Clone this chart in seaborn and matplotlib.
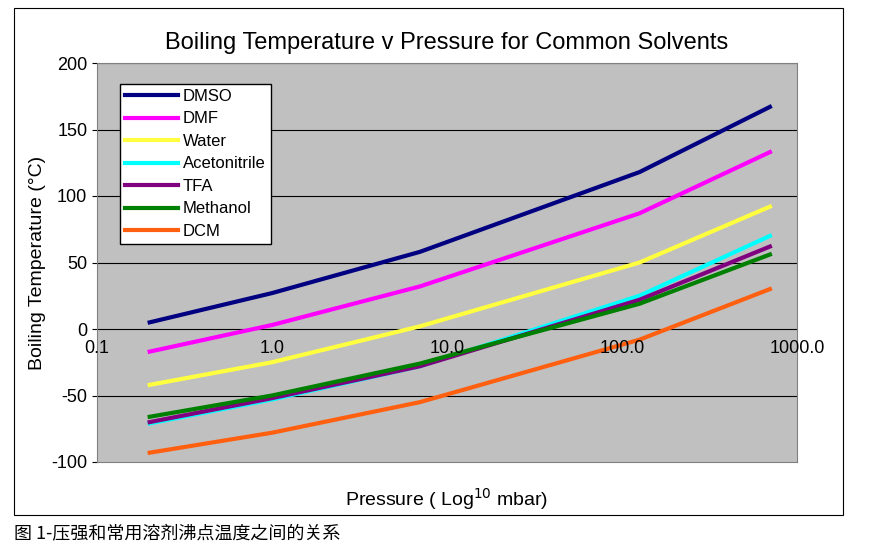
import matplotlib
matplotlib.use("Agg")
import matplotlib.pyplot as plt
import seaborn as sns
import pandas as pd
from matplotlib.lines import Line2D

plt.rcParams["axes.unicode_minus"] = False

pressure = [0.2, 1.0, 7.0, 126.0, 700.0]
solvents = ["DMSO", "DMF", "Water", "Acetonitrile", "TFA", "Methanol", "DCM"]
dmso = [5, 27, 58, 118, 167]
dmf = [-17, 3, 32, 87, 133]
water = [-42, -25, 2, 50, 92]
acetonitrile = [-71, -53, -28, 25, 70]
tfa = [-70, -52, -28, 22, 62]
methanol = [-66, -50, -26, 19, 56]
dcm = [-93, -78, -55, -8, 30]
values = [dmso, dmf, water, acetonitrile, tfa, methanol, dcm]
colors = ["#000080", "#FF00FF", "#FFFF40", "#00FFFF", "#800080", "#008000", "#FF6010"]
xticks = [0.1, 1.0, 10.0, 100.0, 1000.0]
xtick_labels = ["0.1", "1.0", "10.0", "100.0", "1000.0"]

rows = []
for s, v in zip(solvents, values):
    for p, t in zip(pressure, v):
        rows.append({"Pressure": p, "Temp": t, "Solvent": s})
df = pd.DataFrame(rows)

fig = plt.figure(figsize=(8.81, 5.58), dpi=100)
fig.patches.append(plt.Rectangle((14/881, 1-515/558), (843-14)/881, (515-8)/558,
                                 transform=fig.transFigure, fill=False, ec="black", lw=0.8))
ax = fig.add_axes([97/881, 1-462/558, 700/881, 399/558])
ax.set_facecolor("#C0C0C0")
sns.lineplot(data=df, x="Pressure", y="Temp", hue="Solvent", palette=colors,
             hue_order=solvents, lw=3, ax=ax, legend=False)
ax.set_xscale("log")
ax.set_xlim(0.1, 1000)
ax.set_ylim(-100, 200)
ax.set_yticks(range(-100, 201, 50))
for y in range(-50, 201, 50):
    ax.axhline(y, color="black", lw=0.8, zorder=0.5)
ax.set_xticks(xticks)
ax.set_xticklabels([])
ax.minorticks_off()
ax.tick_params(axis="x", length=0)
for x, l in zip(xticks, xtick_labels):
    ax.text(x, -8, l, ha="center", va="top", fontsize=13, fontfamily="Liberation Sans")
ax.tick_params(axis="y", labelsize=13)
for t in ax.get_yticklabels():
    t.set_fontfamily("Liberation Sans")
ax.set_xlabel("Pressure ( Log$^{10}$ mbar)", fontsize=14, fontfamily="Liberation Sans", labelpad=14)
ax.set_ylabel("Boiling Temperature (°C)", fontsize=14, fontfamily="Liberation Sans")
ax.set_title("Boiling Temperature v Pressure for Common Solvents", fontsize=17,
             fontfamily="Liberation Sans", pad=10)
handles = [Line2D([], [], color=c, lw=3) for c in colors]
ax.legend(handles, solvents, loc="upper left", bbox_to_anchor=(0.025, 0.96),
          fancybox=False, framealpha=1, edgecolor="black",
          prop={"family": "Liberation Sans", "size": 12}, handlelength=3.2,
          handletextpad=0.3, labelspacing=0.45, borderaxespad=0.3, borderpad=0.3)
for sp in ax.spines.values():
    sp.set_color("#808080")
fig.text(14/881, 1-533/558, "图 1-压强和常用溶剂沸点温度之间的关系", fontsize=13,
         fontfamily=["Noto Sans CJK SC", "Noto Sans CJK JP", "Noto Sans CJK TC", "DejaVu Sans"],
         va="center")
fig.savefig("out.png", dpi=100)
